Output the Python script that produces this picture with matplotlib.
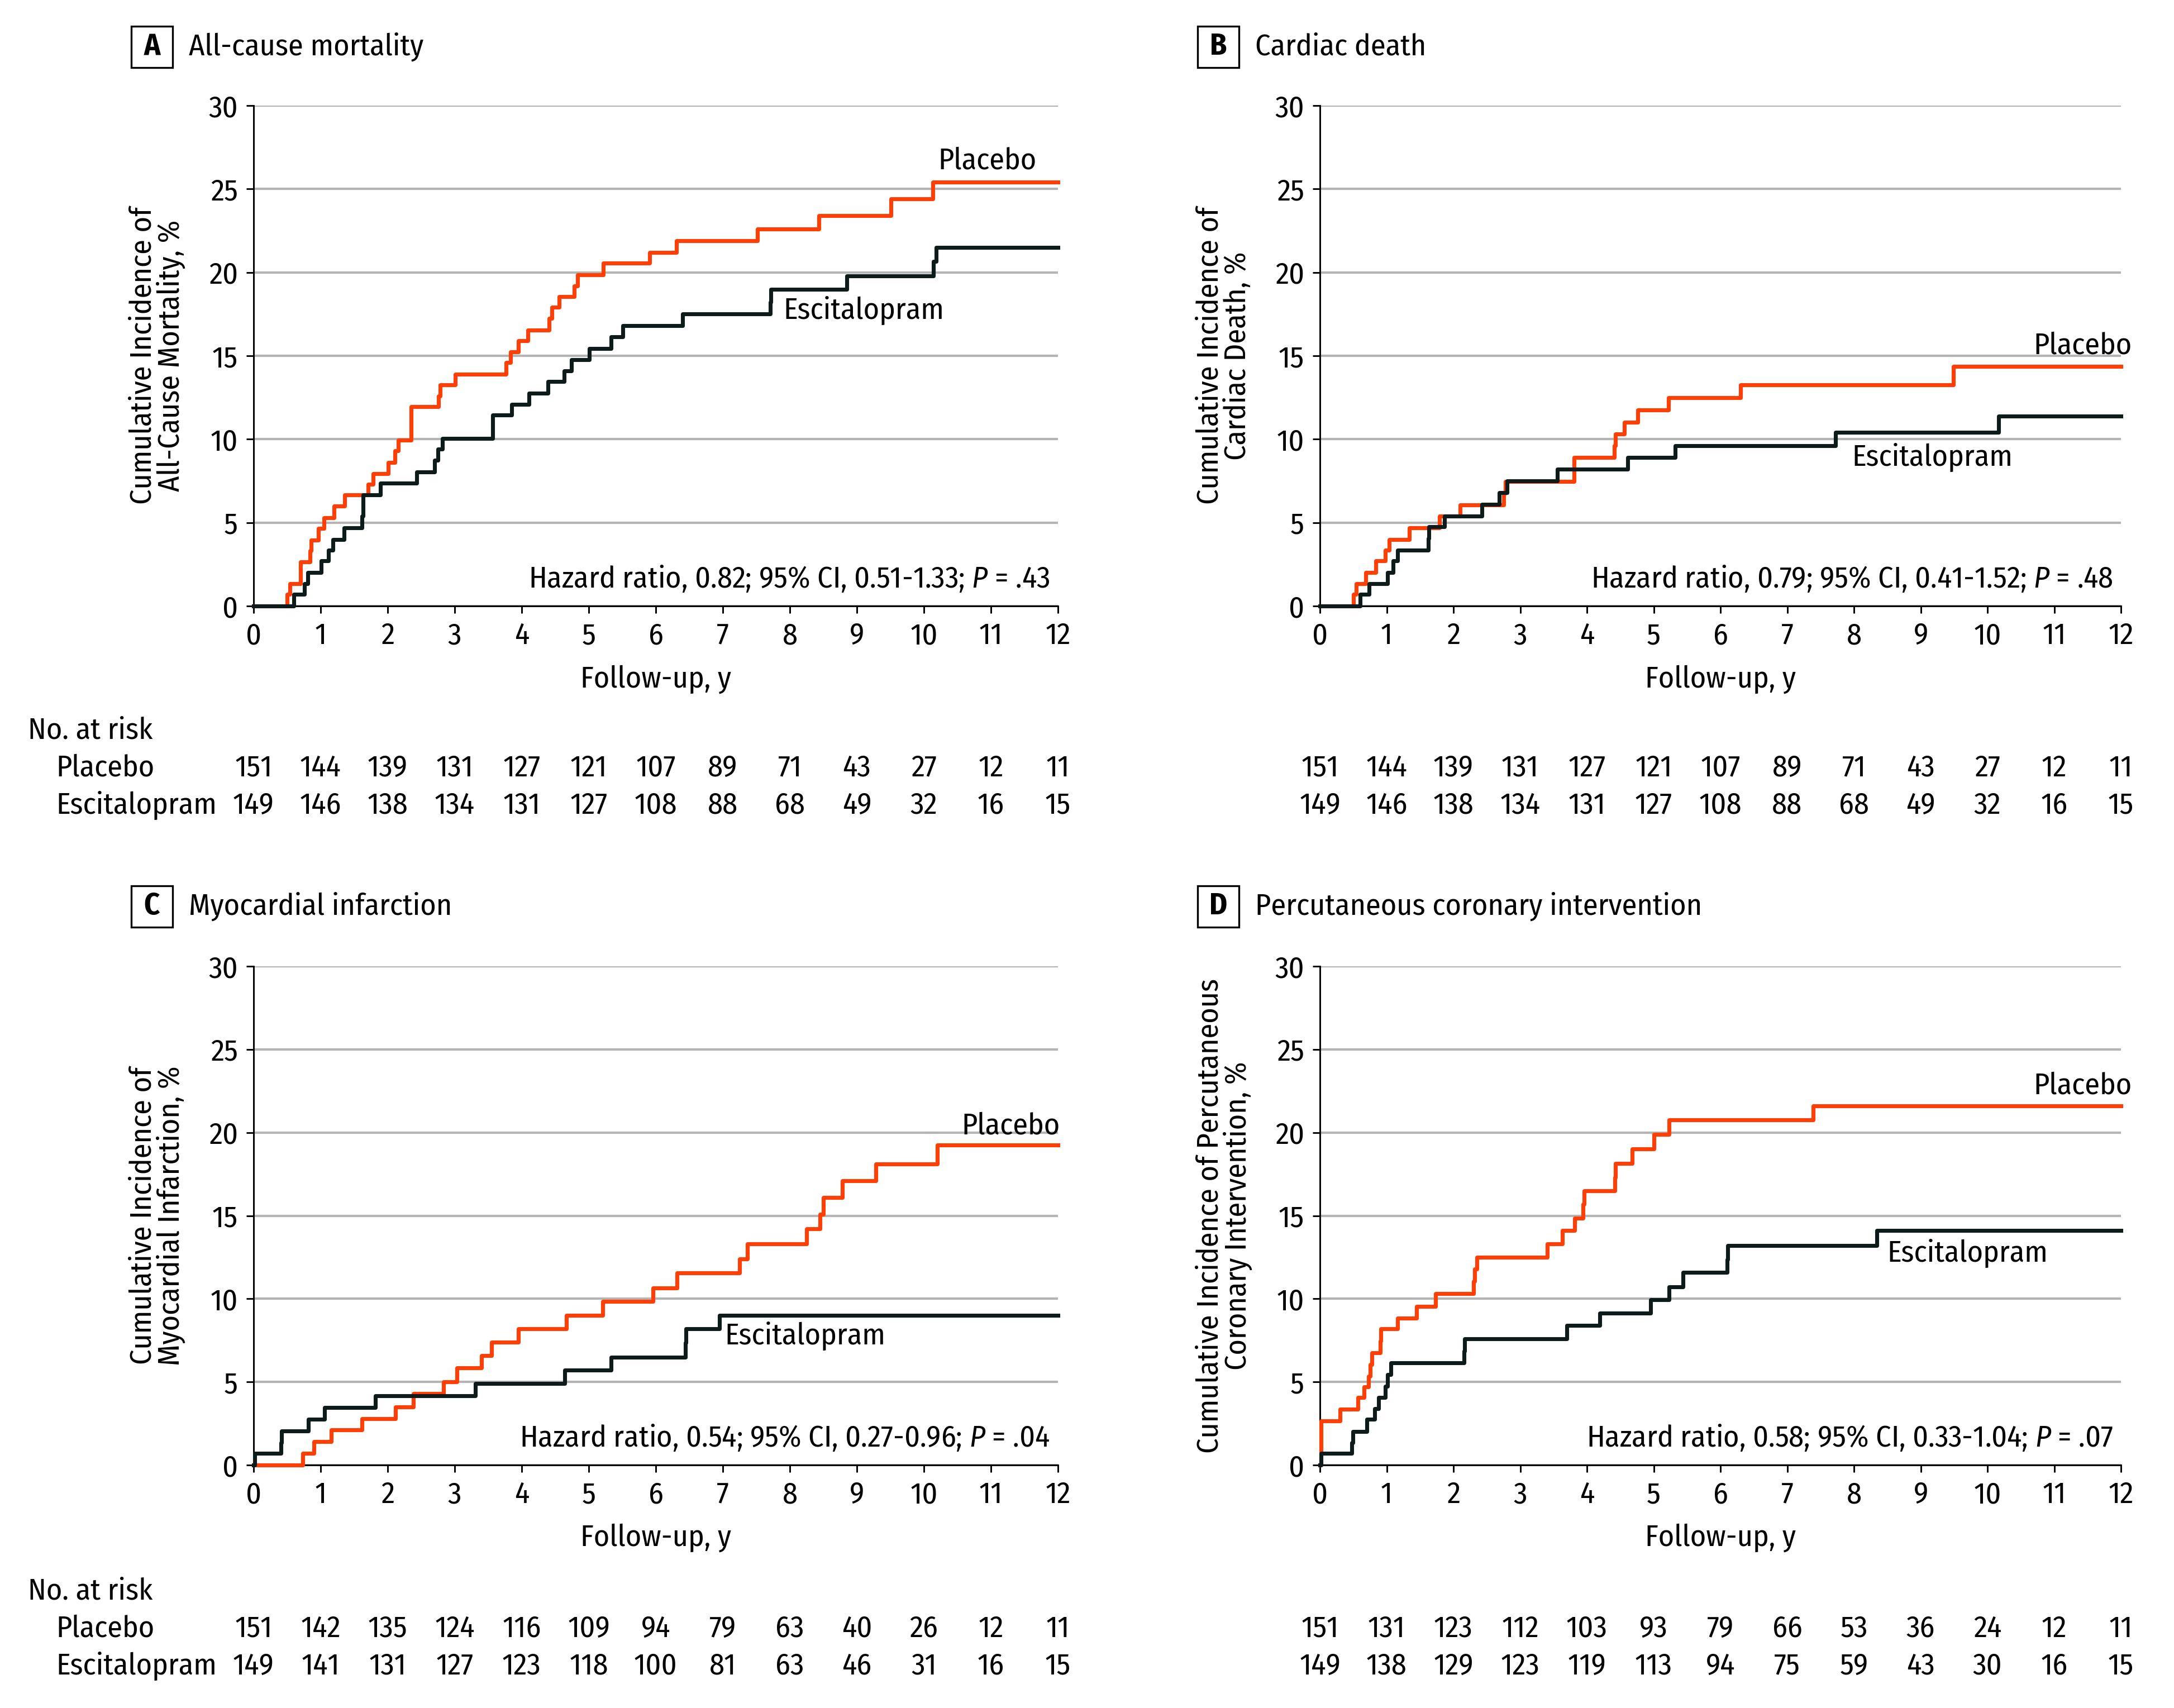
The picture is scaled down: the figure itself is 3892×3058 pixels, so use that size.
import matplotlib
matplotlib.use('Agg')
import matplotlib.pyplot as plt
from matplotlib.patches import Rectangle
from matplotlib.transforms import blended_transform_factory

plt.rcParams['font.family'] = ['Fira Sans Condensed', 'PT Sans Narrow', 'DejaVu Sans']
plt.rcParams['mathtext.fontset'] = 'custom'
plt.rcParams['mathtext.it'] = 'Fira Sans Condensed:italic'
plt.rcParams['mathtext.rm'] = 'Fira Sans Condensed'

PLACEBO_COLOR = '#ff3f05'
ESC_COLOR = '#0d1b1b'
GRID_COLOR = '#b4b4b4'
FS = 13

years = list(range(0, 13))

# ---- A: all-cause mortality
a_plac_t = [0, 0.50, 0.54, 0.70, 0.84, 0.86, 0.97, 1.05, 1.20, 1.36, 1.71, 1.78, 2.01, 2.11, 2.16, 2.35,
            2.76, 2.78, 3.01, 3.77, 3.83, 3.95, 4.09, 4.41, 4.45, 4.56, 4.78, 4.83, 5.22, 5.91, 6.31,
            7.52, 8.43, 9.51, 10.13, 12]
a_plac_v = [0, 0.7, 1.35, 2.65, 3.3, 3.95, 4.65, 5.3, 6.0, 6.65, 7.3, 7.95, 8.6, 9.3, 9.95, 11.95,
            12.6, 13.25, 13.9, 14.6, 15.25, 15.9, 16.55, 17.25, 17.9, 18.55, 19.2, 19.85, 20.55, 21.2, 21.9,
            22.6, 23.4, 24.4, 25.4, 25.4]
a_esc_t = [0, 0.60, 0.76, 0.81, 1.01, 1.12, 1.18, 1.35, 1.62, 1.63, 1.89, 2.43, 2.70, 2.75, 2.82, 3.57,
           3.85, 4.11, 4.39, 4.63, 4.74, 5.01, 5.33, 5.51, 6.40, 7.71, 7.72, 8.85, 10.14, 10.18, 12]
a_esc_v = [0, 0.7, 1.35, 2.0, 2.7, 3.35, 4.0, 4.7, 5.4, 6.65, 7.35, 8.05, 8.75, 9.4, 10.05, 11.45,
           12.1, 12.75, 13.45, 14.1, 14.75, 15.45, 16.15, 16.8, 17.5, 18.2, 19.0, 19.8, 20.65, 21.5, 21.5]

# ---- B: cardiac death
b_plac_t = [0, 0.50, 0.54, 0.69, 0.84, 0.98, 1.04, 1.34, 1.79, 2.10, 2.75, 2.78, 3.81, 4.41, 4.43, 4.56,
            4.76, 5.22, 6.30, 9.49, 12]
b_plac_v = [0, 0.7, 1.35, 2.0, 2.7, 3.35, 4.0, 4.7, 5.4, 6.05, 6.75, 7.45, 8.9, 9.6, 10.3, 11.0,
            11.75, 12.5, 13.25, 14.35, 14.35]
b_esc_t = [0, 0.60, 0.74, 1.01, 1.10, 1.16, 1.62, 1.63, 1.87, 2.43, 2.69, 2.80, 3.56, 4.61, 5.32, 7.72,
           10.17, 12]
b_esc_v = [0, 0.7, 1.35, 2.0, 2.7, 3.35, 4.05, 4.75, 5.4, 6.1, 6.8, 7.5, 8.2, 8.9, 9.6, 10.4,
           11.4, 11.4]

# ---- C: myocardial infarction
c_plac_t = [0, 0.73, 0.90, 1.16, 1.62, 2.12, 2.38, 2.83, 3.03, 3.40, 3.55, 3.95, 4.67, 5.21, 5.96, 6.32,
            7.25, 7.37, 8.25, 8.45, 8.50, 8.78, 9.28, 10.2, 12]
c_plac_v = [0, 0.7, 1.4, 2.1, 2.8, 3.5, 4.3, 5.0, 5.85, 6.6, 7.4, 8.2, 9.0, 9.85, 10.65, 11.55,
            12.4, 13.3, 14.2, 15.1, 16.1, 17.1, 18.1, 19.25, 19.25]
c_esc_t = [0, 0.02, 0.41, 0.42, 0.82, 1.06, 1.82, 3.31, 4.64, 5.33, 6.44, 6.45, 6.95, 12]
c_esc_v = [0, 0.7, 1.35, 2.05, 2.75, 3.45, 4.15, 4.9, 5.7, 6.5, 7.35, 8.2, 9.0, 9.0]

# ---- D: percutaneous coronary intervention
d_plac_t = [0, 0.02, 0.30, 0.57, 0.66, 0.73, 0.75, 0.78, 0.90, 0.91, 1.16, 1.45, 1.73, 2.30, 2.32, 2.35,
            3.41, 3.63, 3.82, 3.94, 3.96, 4.42, 4.43, 4.68, 5.00, 5.23, 7.39, 12]
d_plac_v = [0, 2.65, 3.35, 4.05, 4.7, 5.35, 6.05, 6.75, 7.45, 8.2, 8.85, 9.55, 10.3, 11.05, 11.8, 12.5,
            13.3, 14.1, 14.85, 15.7, 16.5, 17.3, 18.15, 19.0, 19.9, 20.75, 21.6, 21.6]
d_esc_t = [0, 0.02, 0.48, 0.49, 0.70, 0.82, 0.88, 0.98, 1.01, 1.06, 2.16, 2.17, 3.70, 4.19, 4.95, 5.23,
           5.44, 6.10, 6.11, 8.34, 12]
d_esc_v = [0, 0.7, 1.35, 2.0, 2.75, 3.4, 4.05, 4.75, 5.45, 6.15, 6.85, 7.6, 8.4, 9.15, 9.95, 10.7,
           11.6, 12.35, 13.2, 14.1, 14.1]

# ---- number at risk
risk_ab_plac = [151, 144, 139, 131, 127, 121, 107, 89, 71, 43, 27, 12, 11]
risk_ab_esc = [149, 146, 138, 134, 131, 127, 108, 88, 68, 49, 32, 16, 15]
risk_c_plac = [151, 142, 135, 124, 116, 109, 94, 79, 63, 40, 26, 12, 11]
risk_c_esc = [149, 141, 131, 127, 123, 118, 100, 81, 63, 46, 31, 16, 15]
risk_d_plac = [151, 131, 123, 112, 103, 93, 79, 66, 53, 36, 24, 12, 11]
risk_d_esc = [149, 138, 129, 123, 119, 113, 94, 75, 59, 43, 30, 16, 15]

panels = [
    dict(letter='A', title='All-cause mortality',
         ylabel='Cumulative Incidence of\nAll-Cause Mortality, %',
         plac=(a_plac_t, a_plac_v), esc=(a_esc_t, a_esc_v),
         hr='Hazard ratio, 0.82; 95% CI, 0.51-1.33; $P$ = .43',
         risk=(risk_ab_plac, risk_ab_esc),
         plac_lab=(10.95, 26.7), esc_lab=(9.1, 17.7)),
    dict(letter='B', title='Cardiac death',
         ylabel='Cumulative Incidence of\nCardiac Death, %',
         plac=(b_plac_t, b_plac_v), esc=(b_esc_t, b_esc_v),
         hr='Hazard ratio, 0.79; 95% CI, 0.41-1.52; $P$ = .48',
         risk=(risk_ab_plac, risk_ab_esc),
         plac_lab=(11.43, 15.6), esc_lab=(9.17, 8.9)),
    dict(letter='C', title='Myocardial infarction',
         ylabel='Cumulative Incidence of\nMyocardial Infarction, %',
         plac=(c_plac_t, c_plac_v), esc=(c_esc_t, c_esc_v),
         hr='Hazard ratio, 0.54; 95% CI, 0.27-0.96; $P$ = .04',
         risk=(risk_c_plac, risk_c_esc),
         plac_lab=(11.3, 20.4), esc_lab=(8.23, 7.75)),
    dict(letter='D', title='Percutaneous coronary intervention',
         ylabel='Cumulative Incidence of Percutaneous\nCoronary Intervention, %',
         plac=(d_plac_t, d_plac_v), esc=(d_esc_t, d_esc_v),
         hr='Hazard ratio, 0.58; 95% CI, 0.33-1.04; $P$ = .07',
         risk=(risk_d_plac, risk_d_esc),
         plac_lab=(11.43, 22.8), esc_lab=(9.7, 12.75)),
]

W, H = 3892, 3058
fig = plt.figure(figsize=(W / 300, H / 300), dpi=300)

# axes boxes in pixels: left, top, right, bottom
boxes = [(454, 189, 1894, 1085), (2363, 189, 3797, 1085),
         (454, 1730, 1894, 2623), (2363, 1730, 3797, 2623)]
title_y = [84, 84, 1623, 1623]
risk_rows = [(1308, 1375, 1442), (1308, 1375, 1442), (2849, 2916, 2983), (2849, 2916, 2983)]

for i, p in enumerate(panels):
    l, t, r, b = boxes[i]
    ax = fig.add_axes([l / W, 1 - b / H, (r - l) / W, (b - t) / H])
    ax.set_xlim(0, 12)
    ax.set_ylim(0, 30)
    ax.set_xticks(years)
    ax.set_yticks(range(0, 31, 5))
    ax.tick_params(labelsize=FS, length=3.2, width=0.7, direction='out', pad=3.5)
    for s in ['top', 'right']:
        ax.spines[s].set_visible(False)
    for s in ['left', 'bottom']:
        ax.spines[s].set_linewidth(0.7)
    ax.set_axisbelow(True)
    ax.yaxis.grid(True, color=GRID_COLOR, linewidth=1.0)

    ax.step(p['plac'][0], p['plac'][1], where='post', color=PLACEBO_COLOR, lw=1.7, clip_on=False, zorder=3)
    ax.step(p['esc'][0], p['esc'][1], where='post', color=ESC_COLOR, lw=1.7, clip_on=False, zorder=4)

    ax.text(*p['plac_lab'], 'Placebo', fontsize=FS, ha='center', va='center')
    ax.text(*p['esc_lab'], 'Escitalopram', fontsize=FS, ha='center', va='center')
    ax.text(0.99, 0.055, p['hr'], transform=ax.transAxes, fontsize=FS, ha='right', va='center')

    ax.text(-0.12, 0.5, p['ylabel'], transform=ax.transAxes, rotation=90, fontsize=FS,
            ha='center', va='center', multialignment='center', linespacing=0.95)
    ax.text(0.5, -0.146, 'Follow-up, y', transform=ax.transAxes, fontsize=FS, ha='center', va='center')

    # panel letter box and title
    cx, cy = l - 182, title_y[i]
    fig.patches.append(Rectangle(((cx - 37) / W, 1 - (cy + 37) / H), 74 / W, 74 / H,
                                 transform=fig.transFigure, fill=False, ec='black', lw=0.8))
    fig.text(cx / W, 1 - cy / H, p['letter'], fontsize=FS, fontweight='bold', ha='center', va='center')
    fig.text((l - 116) / W, 1 - cy / H, p['title'], fontsize=FS, ha='left', va='center')

    # number at risk table
    tr = blended_transform_factory(ax.transData, fig.transFigure)
    y0, y1, y2 = risk_rows[i]
    for x, n in zip(years, p['risk'][0]):
        ax.text(x, 1 - y1 / H, str(n), transform=tr, fontsize=FS, ha='center', va='center', clip_on=False)
    for x, n in zip(years, p['risk'][1]):
        ax.text(x, 1 - y2 / H, str(n), transform=tr, fontsize=FS, ha='center', va='center', clip_on=False)
    if p['letter'] in ('A', 'C'):
        fig.text(50 / W, 1 - y0 / H, 'No. at risk', fontsize=FS, ha='left', va='center')
        fig.text(100 / W, 1 - y1 / H, 'Placebo', fontsize=FS, ha='left', va='center')
        fig.text(100 / W, 1 - y2 / H, 'Escitalopram', fontsize=FS, ha='left', va='center')

fig.savefig('out.png', dpi=300, facecolor='white')
